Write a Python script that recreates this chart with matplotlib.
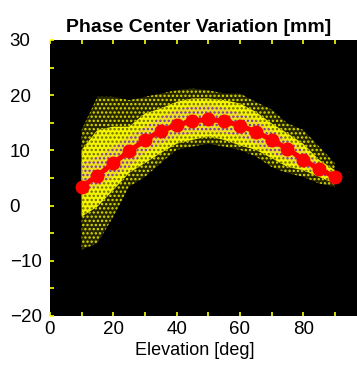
import matplotlib

matplotlib.use("Agg")
import matplotlib.pyplot as plt
import numpy as np

plt.rcParams["font.family"] = ["Liberation Sans", "DejaVu Sans"]
plt.rcParams["hatch.linewidth"] = 1.1

# elevation bins (deg) and mean phase center variation (mm)
elevation = [10, 15, 20, 25, 30, 35, 40, 45, 50, 55, 60, 65, 70, 75, 80, 85, 90]
pcv_mean = [3.4, 5.4, 7.7, 9.8, 11.9, 13.5, 14.6, 15.3, 15.6, 15.3, 14.5, 13.4, 11.9, 10.3, 8.3, 6.6, 5.2]

# extent of the scattered observations (mm), estimated by eye per bin
sparse_lo = [-8.0, -6.8, -2.0, 3.4, 5.2, 7.7, 10.1, 10.7, 11.2, 10.7, 10.1, 8.9, 7.0, 5.9, 5.2, 4.0, 3.4]
sparse_hi = [13.7, 19.7, 19.7, 19.1, 19.7, 20.3, 20.9, 21.2, 20.9, 20.3, 20.3, 18.8, 17.4, 14.9, 13.7, 10.7, 7.7]
dense_lo = [-2.0, -0.2, 2.8, 5.9, 7.7, 9.5, 11.2, 11.9, 12.5, 11.9, 10.9, 10.1, 8.6, 7.0, 6.4, 5.2, 4.0]
dense_hi = [10.1, 13.7, 14.3, 14.3, 16.7, 17.6, 18.8, 19.4, 19.4, 19.1, 18.5, 17.0, 14.9, 13.1, 11.2, 8.3, 6.4]
core_lo = [2.9, 3.4, 5.2, 7.0, 9.5, 11.2, 12.5, 13.1, 13.4, 13.1, 12.5, 11.2, 9.5, 8.3, 7.0, 5.6, 4.8]
core_hi = [7.7, 8.9, 10.7, 12.5, 14.3, 16.1, 17.4, 18.0, 18.3, 17.7, 16.7, 15.5, 13.7, 11.9, 10.1, 7.6, 5.6]

x_ticks = [0, 20, 40, 60, 80]
y_ticks = [-20, -10, 0, 10, 20, 30]

fig = plt.figure(figsize=(3.57, 3.70), dpi=100)
ax = fig.add_axes([0.140, 0.146, 0.860, 0.746])
ax.set_facecolor("black")

x = np.array(elevation)
# sparse outer cloud: black with yellow speckle
ax.fill_between(x, sparse_lo, sparse_hi, facecolor="#262600", edgecolor="#e0e000",
                hatch="....", linewidth=0)
# dense cloud: yellow with dark speckle
ax.fill_between(x, dense_lo, dense_hi, facecolor="#f5f500", edgecolor="#6a6a00",
                hatch="....", linewidth=0)
# core: yellow / purple mix
ax.fill_between(x, core_lo, core_hi, facecolor="#eee020", edgecolor="#7030b0",
                hatch="....", linewidth=0)

ax.plot(elevation, pcv_mean, color="red", linewidth=3.6, marker="o",
        markersize=9, markerfacecolor="red", markeredgecolor="red", zorder=5)

ax.set_xlim(0, 97)
ax.set_ylim(-20, 30)
ax.set_xticks(x_ticks)
ax.set_xticks(np.arange(0, 97, 10), minor=True)
ax.set_yticks(y_ticks)
ax.set_yticks(np.arange(-20, 31, 5), minor=True)
ax.tick_params(which="both", direction="in", color="yellow", labelsize=13.5,
               labelcolor="black", top=True)
ax.tick_params(which="major", length=3, width=1.2)
ax.tick_params(which="minor", length=3, width=1.2)
ax.tick_params(axis="y", pad=29)
for lbl in ax.get_yticklabels():
    lbl.set_horizontalalignment("left")
for spine in ax.spines.values():
    spine.set_visible(False)

ax.set_title("Phase Center Variation [mm]", fontsize=14, fontweight="bold", pad=6, x=0.483)
ax.set_xlabel("Elevation [deg]", fontsize=13, labelpad=3, x=0.47)

fig.savefig("out.png", dpi=100, facecolor="white")
